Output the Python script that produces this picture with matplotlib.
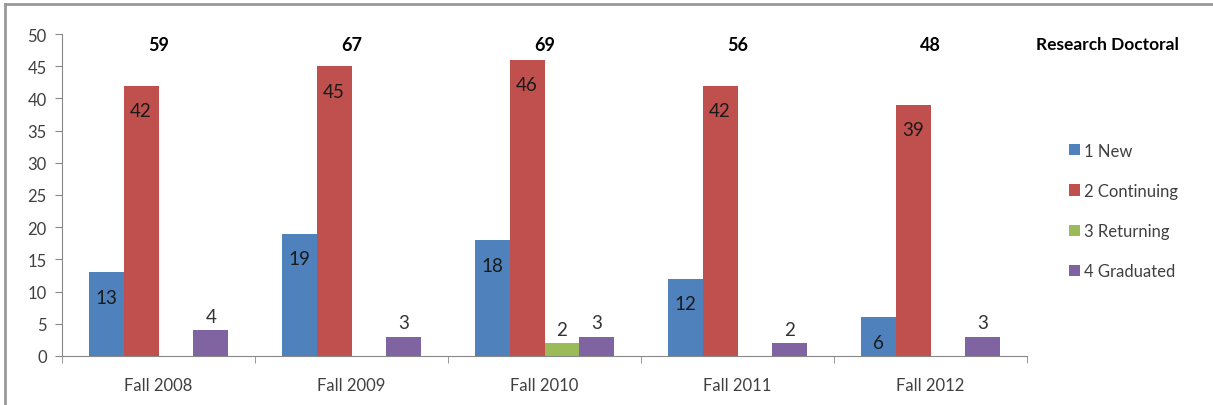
import matplotlib
matplotlib.use("Agg")
import matplotlib.pyplot as plt
from matplotlib.lines import Line2D
from matplotlib.patches import Patch
import numpy as np

categories = ["Fall 2008", "Fall 2009", "Fall 2010", "Fall 2011", "Fall 2012"]
series_names = ["1 New", "2 Continuing", "3 Returning", "4 Graduated"]
new = [13, 19, 18, 12, 6]
continuing = [42, 45, 46, 42, 39]
returning = [0, 0, 2, 0, 0]
graduated = [4, 3, 3, 2, 3]
totals = [59, 67, 69, 56, 48]
title = "Research Doctoral"

colors = ["#4F81BD", "#C0504D", "#9BBB59", "#8064A2"]
plt.rcParams['font.family'] = ['Lato', 'DejaVu Sans']

fig = plt.figure(figsize=(12.13, 4.06), dpi=100)
ax = fig.add_axes([62/1213, 1-357/406, (1027-62)/1213, (357-35)/406])

x = np.arange(len(categories))
w = 0.181
data = [new, continuing, returning, graduated]
for i, (vals, c) in enumerate(zip(data, colors)):
    pos = x + (i - 1.5) * w
    ax.bar(pos, vals, width=w, color=c, edgecolor='none', zorder=2)
    for p, v in zip(pos, vals):
        if v == 0:
            continue
        if i < 2:
            ax.annotate(str(v), (p, v), xytext=(0, -18), textcoords='offset points',
                        ha='center', va='center', fontsize=13.5, color='#1a1a1a')
        else:
            ax.annotate(str(v), (p, v), xytext=(0, 4), textcoords='offset points',
                        ha='center', va='bottom', fontsize=13.5, color='#333333')

for xi, t in zip(x, totals):
    ax.text(xi, 48.4, str(t), ha='center', va='center', fontsize=13, fontweight='bold', color='black')

fig.text(1107/1213, 1-45/406, title, ha='center', va='center', fontsize=12.5, fontweight='bold')

ax.set_xlim(-0.5, 4.5)
ax.set_ylim(0, 50)
ax.set_yticks(range(0, 51, 5))
ax.set_xticks(x)
ax.set_xticklabels(categories)
ax.set_xticks(np.arange(-0.5, 4.6, 1), minor=True)
ax.tick_params(axis='x', which='major', length=0, pad=15, labelsize=12, labelcolor='#404040')
ax.tick_params(axis='x', which='minor', length=5, color='#888888', direction='out')
ax.tick_params(axis='y', length=5, color='#888888', labelsize=12, labelcolor='#404040', pad=6)
for s in ['top', 'right']:
    ax.spines[s].set_visible(False)
for s in ['left', 'bottom']:
    ax.spines[s].set_color('#888888')

handles = [Patch(facecolor=c, edgecolor='none') for c in colors]
leg = fig.legend(handles, series_names, loc='upper left', bbox_to_anchor=(1062/1213, 1-137/406),
                 frameon=False, fontsize=12, handlelength=0.65, handleheight=0.65,
                 handletextpad=0.3, labelspacing=1.45, borderaxespad=0)
for t in leg.get_texts():
    t.set_color('#404040')

fig.add_artist(Line2D([5/1213, 1], [1-5/406, 1-5/406], color='#999999', lw=2, transform=fig.transFigure))
fig.add_artist(Line2D([5/1213, 5/1213], [0, 1-5/406], color='#999999', lw=2, transform=fig.transFigure))

fig.savefig("out.png", dpi=100)
